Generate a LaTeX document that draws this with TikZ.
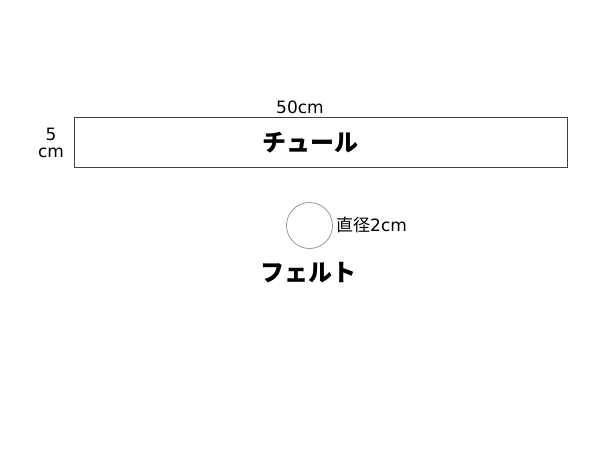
\documentclass[tikz,border=0pt]{standalone}
\usepackage{fontspec}
\setmainfont{DejaVu Sans}
\newfontfamily\jp{Noto Sans CJK JP}
\begin{document}
\begin{tikzpicture}[x=1pt,y=-1pt,
  lbl/.style={font=\fontsize{17}{19}\selectfont, inner sep=0pt},
  title/.style={font=\jp\bfseries\fontsize{24}{28}\selectfont, inner sep=0pt},
  shapebox/.style={draw=black!75, line width=0.9pt},
  felt/.style={draw=black!45, line width=0.7pt, circle, minimum size=46pt, inner sep=0pt}]
\useasboundingbox (0,0) rectangle (600,450);
\node[shapebox, minimum width=493pt, minimum height=50pt, inner sep=0pt, anchor=north west] (tulle) at (74,117) {};
\node[title] (tulletxt) at (310,143) {チュール};
\node[lbl] (len) at (300,107) {50cm};
\node[lbl] (w1) at (51,134) {5};
\node[lbl] (w2) at (51,153) {cm};
\node[felt] (disc) at (309.5,225.5) {};
\node[lbl, anchor=west] (dia) at (336,225.5) {{\jp 直径}2cm};
\node[title] (felttxt) at (308,273) {フェルト};
\end{tikzpicture}
\end{document}
